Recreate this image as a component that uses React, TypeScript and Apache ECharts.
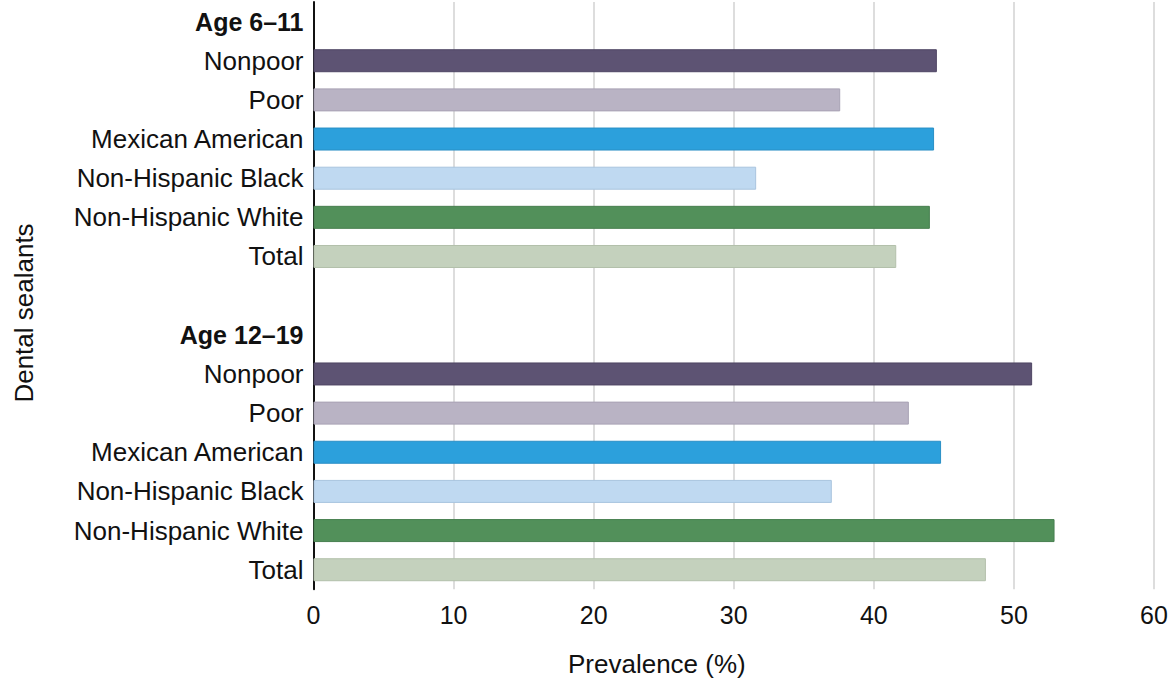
import React, { useEffect, useRef } from "react";
import * as echarts from "echarts";

const categories = [
  "Age 6–11",
  "Nonpoor",
  "Poor",
  "Mexican American",
  "Non-Hispanic Black",
  "Non-Hispanic White",
  "Total",
  "",
  "Age 12–19",
  "Nonpoor",
  "Poor",
  "Mexican American",
  "Non-Hispanic Black",
  "Non-Hispanic White",
  "Total",
];

const age6to11 = [44.5, 37.6, 44.3, 31.6, 44.0, 41.6];
const age12to19 = [51.3, 42.5, 44.8, 37.0, 52.9, 48.0];

const groupColors = ["#5d5373", "#b9b3c4", "#2ca0dc", "#bfd9f1", "#52905a", "#c4d1bd"];
const groupBorders = ["#4f4664", "#a8a2b4", "#2a8fc6", "#a9c4de", "#477f4f", "#b3c0ab"];

const xTicks = { min: 0, max: 60, interval: 10 };
const xAxisTitle = "Prevalence (%)";
const yAxisTitle = "Dental sealants";

const FONT = "'Liberation Sans', Arial, Helvetica, sans-serif";

export default function App() {
  const ref = useRef<HTMLDivElement>(null);
  useEffect(() => {
    document.body.style.margin = "0";
    if (!ref.current) return;
    const chart = echarts.init(ref.current, undefined, { renderer: "svg" });

    const mk = (vals: number[]) =>
      vals.map((v, i) => ({
        value: v,
        itemStyle: { color: groupColors[i], borderColor: groupBorders[i], borderWidth: 1 },
      }));
    const data: any[] = [null, ...mk(age6to11), null, null, ...mk(age12to19)];

    chart.setOption({
      animation: false,
      backgroundColor: "#ffffff",
      textStyle: { fontFamily: FONT },
      grid: {
        left: 313.5,
        right: 16,
        top: 2,
        bottom: 89.7,
        containLabel: false,
        outerBoundsMode: "none",
      },
      xAxis: {
        type: "value",
        min: xTicks.min,
        max: xTicks.max,
        interval: xTicks.interval,
        axisLine: { show: false },
        axisTick: { show: false },
        splitLine: { show: true, lineStyle: { color: "#d2d2d2", width: 1.5 } },
        axisLabel: { fontSize: 25, color: "#111111", margin: 13, fontFamily: FONT },
      },
      yAxis: {
        type: "category",
        data: categories,
        inverse: true,
        axisLine: { show: true, lineStyle: { color: "#111111", width: 2 } },
        axisTick: { show: false },
        splitLine: { show: false },
        axisLabel: {
          fontSize: 26,
          color: "#111111",
          margin: 10,
          fontFamily: FONT,
          formatter: (v: string) => (v.startsWith("Age") ? `{b|${v}}` : v),
          rich: {
            b: { fontSize: 25, fontWeight: "bold", color: "#111111", fontFamily: FONT },
          },
        },
      },
      series: [
        {
          type: "bar",
          data,
          barWidth: 23,
        },
      ],
      graphic: [
        {
          type: "text",
          x: 568,
          y: 664,
          style: {
            text: xAxisTitle,
            fontSize: 26,
            fill: "#111111",
            fontFamily: FONT,
            align: "left",
            verticalAlign: "middle",
          },
        },
        {
          type: "text",
          x: 24,
          y: 313,
          rotation: Math.PI / 2,
          style: {
            text: yAxisTitle,
            fontSize: 26,
            fill: "#111111",
            fontFamily: FONT,
            align: "center",
            verticalAlign: "middle",
          },
        },
      ],
    });
    return () => chart.dispose();
  }, []);
  return (
    <div
      ref={ref}
      style={{ position: "fixed", left: 0, top: 0, width: 1170, height: 679 }}
    />
  );
}
